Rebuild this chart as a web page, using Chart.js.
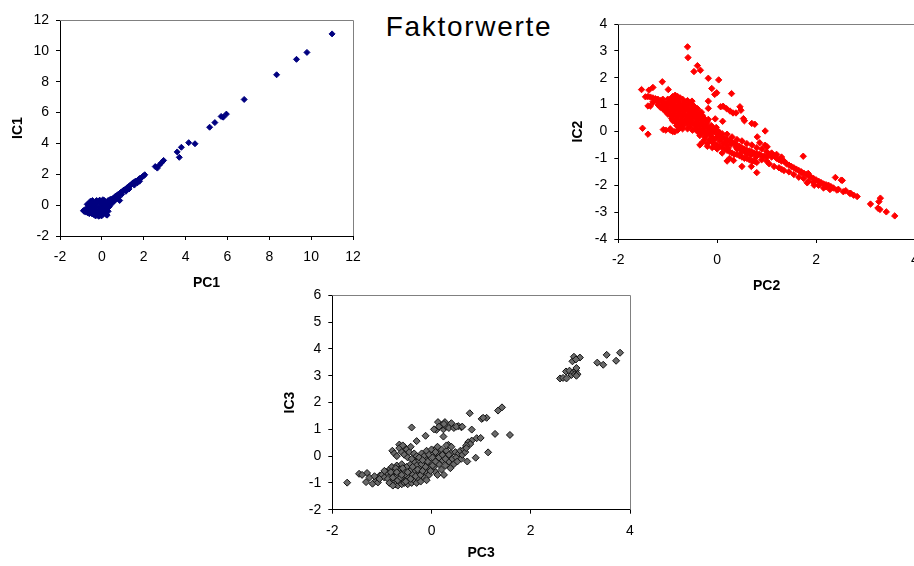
<!DOCTYPE html>
<html>
<head>
<meta charset="utf-8">
<script src="https://cdn.jsdelivr.net/npm/chart.js@4"></script>
<style>
  body { margin: 0; background: #fff; width: 914px; height: 566px; overflow: hidden; position: relative; }
  canvas { position: absolute; }
  #titel {
    position: absolute; left: 369px; top: 13px; width: 200px; text-align: center;
    font: 28px/28px "Liberation Sans", Arial, sans-serif; letter-spacing: 1.7px; color: #000;
  }
</style>
</head>
<body>
<div id="titel">Faktorwerte</div>
<canvas id="c1" width="370" height="300" style="left:0;top:0"></canvas>
<canvas id="c2" width="380" height="300" style="left:560px;top:0"></canvas>
<canvas id="c3" width="370" height="286" style="left:280px;top:280px"></canvas>
<script>
// Faktorwerte: IC scores plotted against PC scores, [pc, ic]
const pc1ic1 = [
  [11.0,11.1],[9.8,9.9],[9.3,9.45],[8.35,8.45],[6.8,6.85],[5.95,5.9],[5.8,5.7],[5.7,5.75],[5.4,5.35],[5.15,5.05],
  [4.45,3.98],[4.15,4.05],[3.8,3.75],[3.7,3.1],[3.6,3.45],[2.95,2.9],[2.85,2.75],[2.75,2.6],[2.65,2.4],[2.55,2.5],
  [2.05,1.97],[2.0,1.9],[1.95,1.85],[1.9,1.8],[1.85,1.75],[1.8,1.72],[1.75,1.65],[1.7,1.6],[1.65,1.55],[1.6,1.55],
  [1.55,1.48],[1.5,1.45],[1.45,1.4],[1.4,1.32],[1.35,1.28],[1.3,1.22],[1.25,1.15],[1.2,1.12],[1.15,1.05],[1.1,1.0],
  [1.05,0.98],[1.0,0.92],[0.95,0.85],[0.9,0.82],[0.85,0.75],[0.8,0.72],[0.75,0.66],[0.7,0.6],[0.65,0.58],[0.6,0.5],
  [0.55,0.45],[1.55,1.3],[1.3,1.05],[1.15,0.9],[0.95,0.7],[0.85,0.3],[0.8,0.5],[0.7,0.4],[0.6,0.3],[0.55,0.2],
  [1.7,1.45],[1.8,1.55],
  [-0.88,-0.35],[-0.85,-0.4],[-0.8,-0.3],[-0.78,-0.45],[-0.72,-0.38],[-0.7,-0.25],[-0.68,-0.5],[-0.65,-0.1],
  [-0.62,0.0],[-0.6,-0.35],[-0.58,-0.2],[-0.55,-0.45],[-0.52,0.1],[-0.5,-0.3],[-0.48,-0.55],[-0.45,-0.05],
  [-0.42,0.2],[-0.4,-0.4],[-0.38,-0.2],[-0.35,0.05],[-0.33,-0.6],[-0.3,0.25],[-0.28,-0.3],[-0.25,-0.1],
  [-0.22,-0.5],[-0.2,0.15],[-0.18,-0.65],[-0.15,-0.35],[-0.12,0.3],[-0.1,-0.15],[-0.08,-0.55],[-0.05,0.05],
  [-0.02,-0.4],[0.0,0.25],[0.02,-0.2],[0.05,-0.6],[0.08,0.1],[0.1,-0.35],[0.12,0.3],[0.15,-0.05],
  [0.18,-0.5],[0.2,0.2],[0.22,-0.25],[0.25,-0.65],[0.28,0.05],[0.3,0.3],[0.32,-0.15],[0.35,0.15],
  [0.38,0.35],[0.4,0.0],[0.42,0.25],[0.45,0.4],[0.48,0.2],[0.5,0.35],[-0.6,-0.55],[-0.45,0.3],
  [-0.3,-0.7],[-0.15,-0.72],[-0.1,0.32],[0.2,-0.6],[-0.7,0.05],[-0.55,0.25],[-0.25,0.3],[0.05,0.35],
  [-0.4,-0.6],[-0.02,-0.7],[0.12,-0.45],[0.3,-0.4],[0.35,-0.1]
];

const pc2ic2 = [
  [-0.60,3.15],[-0.59,2.75],[-0.40,2.45],[-0.47,2.23],[-0.34,2.28],[-0.18,1.98],[0.03,1.92],[-0.11,1.6],
  [-0.05,1.38],[-0.01,1.44],[0.29,1.41],[-0.51,1.13],[-0.18,1.13],[-0.18,0.86],[0.46,0.92],[0.48,0.79],
  [0.07,0.92],[0.12,0.94],[0.19,0.85],[0.26,0.76],[0.32,0.69],[0.38,0.69],[0.53,0.48],[0.55,0.40],
  [0.70,0.30],[0.76,0.27],[0.11,0.38],[-0.04,0.47],[0.97,0.02],[0.81,-0.20],[0.86,-0.42],[0.97,-0.51],
  [1.01,-0.57],[1.74,-0.92],
  [-1.53,1.56],[-1.38,1.54],[-1.30,1.64],[-1.11,1.85],[-0.99,1.56],[-1.45,1.29],[-1.40,0.95],[-1.35,0.95],
  [-1.51,0.12],[-1.40,-0.10],[-1.09,0.07],[-1.04,0.05],[-0.86,-0.01],[-0.95,0.1],
  [2.83,-2.42],[3.10,-2.70],[3.30,-2.48],[3.27,-2.61],[3.25,-2.85],[3.29,-2.9],[3.42,-2.99],[3.59,-3.14],
  [2.39,-1.71],[2.53,-1.82],[0.80,-1.53],[0.50,-1.30],[0.33,-1.08],[0.69,-1.30],[0.2,-1.1],
  [1.71,-1.54],[1.84,-1.56],[1.82,-1.91],[1.96,-2.0],[2.20,-2.06],[2.51,-1.81],[2.28,-2.16],[2.42,-2.18],
  [2.55,-2.24],[2.68,-2.30],[2.76,-2.37],
  [1.05,-0.85],[1.1,-0.95],[1.15,-0.9],[1.2,-1.0],[1.25,-1.05],[1.3,-1.1],[1.35,-1.1],[1.4,-1.2],
  [1.45,-1.25],[1.5,-1.3],[1.55,-1.35],[1.6,-1.4],[1.65,-1.45],[1.7,-1.5],[1.75,-1.55],[1.8,-1.6],
  [1.85,-1.65],[1.9,-1.7],[1.95,-1.75],[2.0,-1.8],[2.05,-1.85],[2.1,-1.9],[2.15,-1.95],[2.2,-1.98],
  [2.25,-2.0],[2.3,-2.05],[2.35,-2.1],[2.45,-2.15],[2.6,-2.2],[2.7,-2.3],
  [1.05,-1.2],[1.15,-1.3],[1.25,-1.35],[1.35,-1.45],[1.45,-1.5],[1.55,-1.6],[1.65,-1.7],[1.75,-1.75],
  [1.85,-1.85],[1.95,-1.9],[2.05,-2.0],[2.15,-2.1],[1.3,-1.4],[1.0,-1.1],[0.9,-1.05],
  [0.0,-0.1],[0.05,-0.15],[0.1,-0.2],[0.15,-0.25],[0.2,-0.3],[0.25,-0.35],[0.3,-0.4],[0.35,-0.45],
  [0.4,-0.5],[0.45,-0.55],[0.5,-0.6],[0.55,-0.65],[0.6,-0.7],[0.65,-0.72],[0.7,-0.75],[0.75,-0.8],
  [0.8,-0.82],[0.85,-0.85],[0.9,-0.9],[0.95,-0.92],[1.0,-0.95],
  [-0.1,-0.4],[0.0,-0.5],[0.05,-0.55],[0.1,-0.6],[0.15,-0.65],[0.2,-0.7],[0.25,-0.75],[0.3,-0.8],
  [0.35,-0.85],[0.4,-0.85],[0.45,-0.9],[0.5,-0.95],[0.55,-1.0],[0.6,-1.0],[0.65,-1.05],[0.7,-1.1],
  [0.75,-1.1],[0.8,-1.15],[-0.2,-0.45],[-0.3,-0.4],[-0.35,-0.5],[-0.25,-0.3],[0.1,-0.8],[0.25,-1.0],
  [0.4,-0.65],[0.6,-0.85],[0.5,-0.75],[0.2,-0.5],
  [0.2,-0.1],[0.3,-0.2],[0.4,-0.3],[0.5,-0.35],[0.6,-0.45],[0.7,-0.5],[0.8,-0.6],[0.9,-0.65],
  [1.0,-0.75],[1.1,-0.8],[1.2,-0.85],[1.3,-0.95],
  [-1.4,1.3],[-1.35,1.28],[-1.3,1.25],[-1.25,1.22],[-1.2,1.2],[-1.15,1.15],[-1.1,1.1],[-1.05,1.05],[-1.0,1.0],
  [-0.9,1.3],[-0.85,1.35],[-0.8,1.3],[-0.75,1.25],
  [-1.0,1.2],[-0.95,1.2],[-0.9,1.15],[-0.85,1.2],[-0.8,1.15],[-0.7,1.2],[-0.65,1.1],[-0.6,1.15],[-0.55,1.05],
  [-1.05,0.95],[-0.95,1.0],[-0.9,0.95],[-0.85,1.0],[-0.8,0.95],[-0.75,1.0],[-0.7,0.95],[-0.65,0.95],
  [-0.6,0.9],[-0.5,1.0],[-0.45,0.9],[-0.4,0.85],
  [-1.0,0.8],[-0.95,0.75],[-0.9,0.8],[-0.85,0.75],[-0.8,0.8],[-0.75,0.75],[-0.7,0.8],[-0.65,0.75],
  [-0.6,0.8],[-0.55,0.7],[-0.5,0.75],[-0.45,0.7],[-0.4,0.65],[-0.35,0.7],[-0.3,0.6],
  [-0.95,0.6],[-0.9,0.55],[-0.85,0.6],[-0.8,0.55],[-0.75,0.6],[-0.7,0.55],[-0.65,0.6],[-0.6,0.5],
  [-0.55,0.55],[-0.5,0.5],[-0.45,0.55],[-0.4,0.45],[-0.35,0.5],[-0.3,0.4],[-0.25,0.45],[-0.2,0.35],
  [-0.9,0.4],[-0.85,0.35],[-0.8,0.4],[-0.75,0.3],[-0.7,0.35],[-0.65,0.4],[-0.6,0.3],[-0.55,0.35],
  [-0.5,0.3],[-0.45,0.25],[-0.4,0.3],[-0.35,0.2],[-0.3,0.25],[-0.25,0.2],[-0.2,0.15],[-0.15,0.1],[-0.1,0.15],
  [-0.75,0.15],[-0.7,0.1],[-0.6,0.1],[-0.5,0.05],[-0.45,0.1],[-0.4,0.0],[-0.35,0.05],[-0.3,-0.05],
  [-0.25,0.0],[-0.2,-0.05],[-0.15,-0.1],[-0.1,-0.05],[-0.05,0.0],[0.0,0.05],[0.05,-0.05],
  [-1.2,1.0],[-1.15,0.9],[-1.1,0.85],[-1.05,0.75],[-1.0,0.65],[-1.2,1.1],[-1.3,1.1],
  [-0.95,0.05],[-0.9,0.0],[-0.8,0.05],
  [-0.25,-0.2],[-0.15,-0.3],[-0.1,-0.25],[-0.05,-0.3],[0.05,-0.35],[-0.2,-0.55],[-0.1,-0.6],[0.0,-0.65],
  [-1.1,1.2],[-0.98,1.1],[-0.88,1.08],[-0.78,1.1],[-0.68,1.05],[-0.58,1.0],[-0.48,0.95],
  [-1.12,0.98],[-1.02,0.9],[-0.92,0.88],[-0.82,0.88],[-0.72,0.86],[-0.62,0.84],[-0.52,0.85],[-0.42,0.78],[-0.32,0.72],
  [-0.98,0.68],[-0.88,0.66],[-0.78,0.68],[-0.68,0.66],[-0.58,0.62],[-0.48,0.62],[-0.38,0.58],[-0.28,0.52],[-0.18,0.45],
  [-0.92,0.48],[-0.82,0.48],[-0.72,0.45],[-0.62,0.45],[-0.52,0.42],[-0.42,0.38],[-0.32,0.32],[-0.22,0.28],[-0.12,0.22],[-0.02,0.15],
  [-0.82,0.22],[-0.68,0.22],[-0.55,0.18],[-0.42,0.12],[-0.28,0.1],[-0.18,0.02],[-0.08,0.05],[0.02,-0.02],[0.1,-0.08],
  [-0.35,-0.15],[-0.22,-0.12],[-0.12,-0.18],[0.0,-0.2],[0.08,-0.28],[0.18,-0.38],[0.28,-0.48],[0.38,-0.58],
  [0.48,-0.68],[0.58,-0.78],[0.68,-0.88],[0.78,-0.95],[0.12,-0.45],[-0.05,-0.5],[0.22,-0.62]
];

const pc3ic3 = [
  [-1.70,-0.99],[-1.46,-0.66],[-1.30,-0.63],[-1.32,-0.97],[-1.19,-1.03],[-1.04,-0.72],[-1.12,-0.91],
  [-1.25,-0.8],[-1.4,-0.7],[-1.15,-0.75],[-1.08,-0.98],[-1.0,-0.7],[-0.95,-0.8],[-1.05,-0.85],
  [-0.79,0.20],[-0.65,0.43],[-0.54,0.33],[-0.40,1.07],[-0.30,0.56],[-0.12,0.76],
  [0.13,1.27],[0.27,1.27],[0.40,1.23],[0.54,1.12],[0.60,1.08],[0.10,0.98],[0.24,1.0],[0.2,1.15],
  [0.3,1.1],[0.35,1.05],[0.45,1.05],[0.5,1.1],[0.15,1.1],[0.25,1.2],[0.05,1.0],[0.62,1.1],
  [0.24,0.73],[0.34,0.42],
  [0.77,1.60],[0.81,0.99],[1.01,1.39],[1.11,1.43],[1.04,1.43],[1.34,1.70],[1.42,1.82],[1.28,0.83],
  [1.58,0.79],[1.14,0.14],[0.89,-0.06],[0.72,-0.20],[0.91,0.67],[0.99,0.68],[0.81,0.58],[0.74,0.52],
  [0.78,0.45],[0.7,0.4],
  [2.59,2.90],[2.65,2.92],[2.72,2.90],[2.71,3.16],[2.78,3.19],[2.82,3.03],[2.86,3.13],[2.91,3.19],
  [2.92,3.29],[2.89,3.06],[2.84,3.54],[2.87,3.71],[2.99,3.68],[2.91,3.61],[3.34,3.49],[3.46,3.41],
  [3.53,3.78],[3.72,3.56],[3.80,3.86],[2.94,3.06],[2.92,3.00],
  [-0.85,-0.5],[-0.8,-0.4],[-0.8,-0.7],[-0.75,-0.9],[-0.75,-0.55],[-0.72,-1.05],[-0.7,-0.35],[-0.7,-0.75],
  [-0.68,-1.1],[-0.65,-0.5],[-0.65,-0.95],[-0.62,-0.65],[-0.6,-1.05],[-0.6,-0.3],[-0.58,-0.85],[-0.55,-0.55],
  [-0.55,-1.0],[-0.52,-0.7],[-0.5,-0.4],[-0.5,-0.9],[-0.48,-1.05],[-0.45,-0.6],[-0.45,-0.8],[-0.42,-0.3],
  [-0.4,-1.0],[-0.4,-0.5],[-0.38,-0.7],[-0.35,-0.9],[-0.35,-0.2],[-0.32,-0.55],[-0.3,-1.0],[-0.3,-0.35],
  [-0.28,-0.8],[-0.25,-0.6],[-0.22,-0.95],[-0.2,-0.4],[-0.18,-0.75],[-0.15,-0.2],[-0.12,-0.55],[-0.1,-0.9],
  [-0.08,-0.35],[-0.05,-0.7],[-0.9,-0.6],[-0.88,-0.85],[-0.95,-0.55],[-0.85,-1.0],[-0.78,-1.1],
  [-0.75,0.1],[-0.7,0.0],[-0.65,0.3],[-0.6,0.15],[-0.58,0.4],[-0.55,0.05],[-0.5,0.25],[-0.48,-0.05],
  [-0.45,0.15],[-0.42,0.35],[-0.4,-0.1],[-0.35,0.1],
  [-0.3,0.0],[-0.25,-0.15],[-0.2,0.1],[-0.2,-0.3],[-0.15,0.0],[-0.1,0.2],[-0.1,-0.15],[-0.05,-0.45],
  [-0.05,0.05],[0.0,-0.25],[0.0,0.25],[0.05,0.1],[0.05,-0.4],[0.08,-0.6],[0.1,-0.1],[0.1,0.3],
  [0.12,-0.7],[0.15,0.15],[0.15,-0.3],[0.18,0.0],[0.2,-0.5],[0.2,0.25],[0.22,-0.15],[0.25,0.1],
  [0.25,-0.7],[0.28,-0.35],[0.3,0.2],[0.32,0.0],[0.35,-0.2],[0.38,-0.45],[0.4,0.1],[0.42,-0.1],
  [0.45,-0.3],[0.48,0.15],[0.5,-0.05],[0.52,-0.2],[0.55,0.1],[0.58,0.2],[0.6,-0.1],[0.62,0.05],
  [0.65,0.25],[0.68,0.15],[0.7,0.3],[0.3,0.4],[0.12,0.35],[0.4,0.35],[0.02,-0.05],[0.08,0.15],
  [-0.82,-0.6],[-0.78,-0.8],[-0.72,-0.45],[-0.68,-0.9],[-0.62,-0.8],[-0.58,-0.45],[-0.52,-0.95],[-0.48,-0.6],
  [-0.42,-0.85],[-0.38,-0.4],[-0.32,-0.75],[-0.28,-0.5],[-0.22,-0.7],[-0.18,-0.55],[-0.12,-0.4],[-0.08,-0.2],
  [-0.02,-0.55],[0.02,-0.35],[0.08,-0.2],[0.15,-0.05],[0.22,0.05],[0.28,-0.1],[0.35,0.05],[-0.25,-0.05],
  [-0.18,-0.15],[-0.6,-0.7],[-0.7,-0.6]
];

// axis ranges: [min, max, step]
const x1 = [-2, 12, 2], y1 = [-2, 12, 2];
const x2 = [-2, 4, 2],  y2 = [-4, 4, 1];
const x3 = [-2, 4, 2],  y3 = [-2, 6, 1];

Chart.defaults.font.family = '"Liberation Sans", Arial, sans-serif';
Chart.defaults.color = '#000';

// grey frame on top and right of the plot area
const plotFrame = {
  id: 'plotFrame',
  beforeDatasetsDraw(chart) {
    const { ctx, chartArea: a } = chart;
    const t = Math.round(a.top) + 0.5, r = Math.round(a.right) + 0.5;
    ctx.save();
    ctx.strokeStyle = '#808080';
    ctx.lineWidth = 1;
    ctx.beginPath();
    ctx.moveTo(a.left, t);
    ctx.lineTo(r, t);
    ctx.lineTo(r, a.bottom);
    ctx.stroke();
    ctx.restore();
  }
};

function axis(range, label, size, titlePad, labelPad) {
  return {
    min: range[0], max: range[1],
    ticks: { stepSize: range[2], padding: labelPad, font: { size: 14 } },
    grid: { display: true, drawOnChartArea: false, drawTicks: true, tickLength: 4, color: '#000' },
    border: { display: true, color: '#000' },
    title: { display: true, text: label, font: { size: 14, weight: 'bold' }, padding: titlePad },
    afterFit(s) { if (s.isHorizontal()) s.height = size; else s.width = size; }
  };
}

function scatter(id, points, o) {
  return new Chart(document.getElementById(id), {
    type: 'scatter',
    data: {
      datasets: [{
        data: points.map(p => ({ x: p[0], y: p[1] })),
        pointStyle: 'rectRot',
        pointRadius: o.radius,
        backgroundColor: o.fill,
        borderColor: o.stroke,
        borderWidth: 1
      }]
    },
    options: {
      responsive: false,
      animation: false,
      layout: { padding: o.pad },
      plugins: { legend: { display: false }, tooltip: { enabled: false } },
      scales: {
        x: axis(o.x, o.xLabel, o.xSize, { top: 0, bottom: o.xTitlePad }, 9),
        y: axis(o.y, o.yLabel, o.ySize, { top: o.yTitlePad, bottom: 0 }, 7)
      }
    },
    plugins: [plotFrame]
  });
}

scatter('c1', pc1ic1, {
  x: x1, y: y1, xLabel: 'PC1', yLabel: 'IC1',
  pad: { top: 20, right: 17, left: 0, bottom: 0 },
  xSize: 64, ySize: 60, xTitlePad: 8.6, yTitlePad: 9.6,
  radius: 3, fill: '#000080', stroke: '#000080'
});

scatter('c2', pc2ic2, {
  x: x2, y: y2, xLabel: 'PC2', yLabel: 'IC2',
  pad: { top: 24, right: 25, left: 0, bottom: 0 },
  xSize: 61, ySize: 58.3, xTitlePad: 5.6, yTitlePad: 10.1,
  radius: 3.2, fill: '#ff0000', stroke: '#ff0000'
});

scatter('c3', pc3ic3, {
  x: x3, y: y3, xLabel: 'PC3', yLabel: 'IC3',
  pad: { top: 14.7, right: 20, left: 0, bottom: 0 },
  xSize: 56.3, ySize: 52.3, xTitlePad: 4.6, yTitlePad: 1.6,
  radius: 3.5, fill: '#6a6a6a', stroke: '#111111'
});
</script>
</body>
</html>
